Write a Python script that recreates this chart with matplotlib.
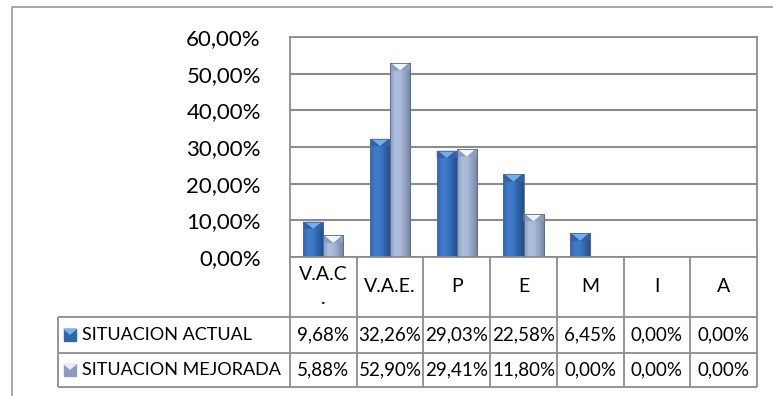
import numpy as np
import matplotlib
matplotlib.use('Agg')
from matplotlib import pyplot as plt
from matplotlib.colors import LinearSegmentedColormap
from matplotlib.patches import Polygon, Rectangle
from matplotlib.lines import Line2D

plt.rcParams['font.family'] = ['Lato', 'DejaVu Sans']

# datos
categorias = ['V.A.C\n.', 'V.A.E.', 'P', 'E', 'M', 'I', 'A']
actual = [9.68, 32.26, 29.03, 22.58, 6.45, 0.00, 0.00]
mejorada = [5.88, 52.90, 29.41, 11.80, 0.00, 0.00, 0.00]
series = ['SITUACION ACTUAL', 'SITUACION MEJORADA']
yticks = [0, 10, 20, 30, 40, 50, 60]

W, H = 773, 396
fig = plt.figure(figsize=(W / 100, H / 100), dpi=100)
gris = '#8c8c8c'

# marco exterior
fig.add_artist(Line2D([12 / W, 12 / W, 1], [0, 1 - 7 / H, 1 - 7 / H], color='#9a9a9a', lw=1.2))

ax = fig.add_axes([290 / W, 1 - 257 / H, 467 / W, 220 / H])
ax.set_xlim(-0.5, 6.5)
ax.set_ylim(0, 60)
ax.set_yticks(yticks)
ax.yaxis.set_major_formatter(plt.FuncFormatter(lambda v, p: ('%.2f%%' % v).replace('.', ',')))
ax.tick_params(axis='y', length=0, pad=21, labelsize=16)
ax.set_xticks([])
ax.grid(axis='y', color=gris, lw=1.5)
ax.set_axisbelow(True)
for s in ax.spines.values():
    s.set_color(gris)
    s.set_linewidth(1.3)

cm_azul = LinearSegmentedColormap.from_list('a', ['#3068b2', '#3f7ccb', '#3c78c4', '#2e61a5', '#214d8a'])
cm_gris = LinearSegmentedColormap.from_list('g', ['#8a9abb', '#adbedf', '#a7b8d9', '#90a0c0', '#71819f'])
x = np.arange(len(categorias))
bw = 0.3
bev = 2.0  # alto del bisel en unidades de datos

def dibujar(vals, off, cmap, tope, lado):
    bars = ax.bar(x + off, vals, bw, color='none', edgecolor='#5a6a88', lw=0.6, zorder=3)
    grad = np.linspace(0, 1, 64).reshape(1, -1)
    for b in bars:
        h = b.get_height()
        if h <= 0:
            continue
        x0, w = b.get_x(), b.get_width()
        im = ax.imshow(grad, cmap=cmap, extent=[x0, x0 + w, 0, h], aspect='auto', zorder=2)
        im.set_clip_path(b)
        ax.add_patch(Polygon([[x0, h], [x0 + w / 2, h - bev], [x0, h - bev]], color=lado, lw=0, zorder=2.5))
        ax.add_patch(Polygon([[x0 + w, h], [x0 + w / 2, h - bev], [x0 + w, h - bev]], color=lado, lw=0, zorder=2.5))
        ax.add_patch(Polygon([[x0 + 0.02, h], [x0 + w - 0.02, h], [x0 + w / 2, h - bev]], color=tope, lw=0, zorder=2.6))
    ax.set_xlim(-0.5, 6.5)
    ax.set_ylim(0, 60)

dibujar(actual, -bw / 2, cm_azul, '#78abea', '#2f62a6')
dibujar(mejorada, bw / 2, cm_gris, '#f0f4fb', '#8d9dbd')

# tabla de datos
tax = fig.add_axes([58 / W, 1 - 387 / H, 699 / W, 130 / H])
cw = 467 / 7.0
tax.set_xlim(-0.5 - 232 / cw, 6.5)
tax.set_ylim(130, 0)
tax.axis('off')

def px(p):
    return -0.5 + (p - 290) / cw

lk = dict(color=gris, lw=1.3, clip_on=False, solid_capstyle='butt')
for c in range(8):
    tax.plot([c - 0.5, c - 0.5], [0, 130], **lk)
left = px(58)
for yy in (60, 96, 130):
    tax.plot([left, 6.5], [yy, yy], **lk)
tax.plot([left, left], [60, 130], **lk)

for i, cat in enumerate(categorias):
    tax.text(i, 29, cat, ha='center', va='center', fontsize=14, linespacing=1.5)

filas = [actual, mejorada]
colores = [('#2f66b0', '#7fb0ea'), ('#8c9cbc', '#e8eef8')]
for r, (nombre, vals) in enumerate(zip(series, filas)):
    yc = 78 + r * 35
    for i, v in enumerate(vals):
        tax.text(i, yc, ('%.2f%%' % v).replace('.', ','), ha='center', va='center', fontsize=13.5)
    tax.text(px(82), yc, nombre, ha='left', va='center', fontsize=13)
    m0, m1 = px(64), px(76)
    tax.add_patch(Rectangle((m0, yc - 6), m1 - m0, 12, color=colores[r][0], clip_on=False))
    tax.add_patch(Polygon([[m0, yc - 6], [m1, yc - 6], [(m0 + m1) / 2, yc - 1]], color=colores[r][1], clip_on=False))

fig.savefig('out.png', dpi=100)
